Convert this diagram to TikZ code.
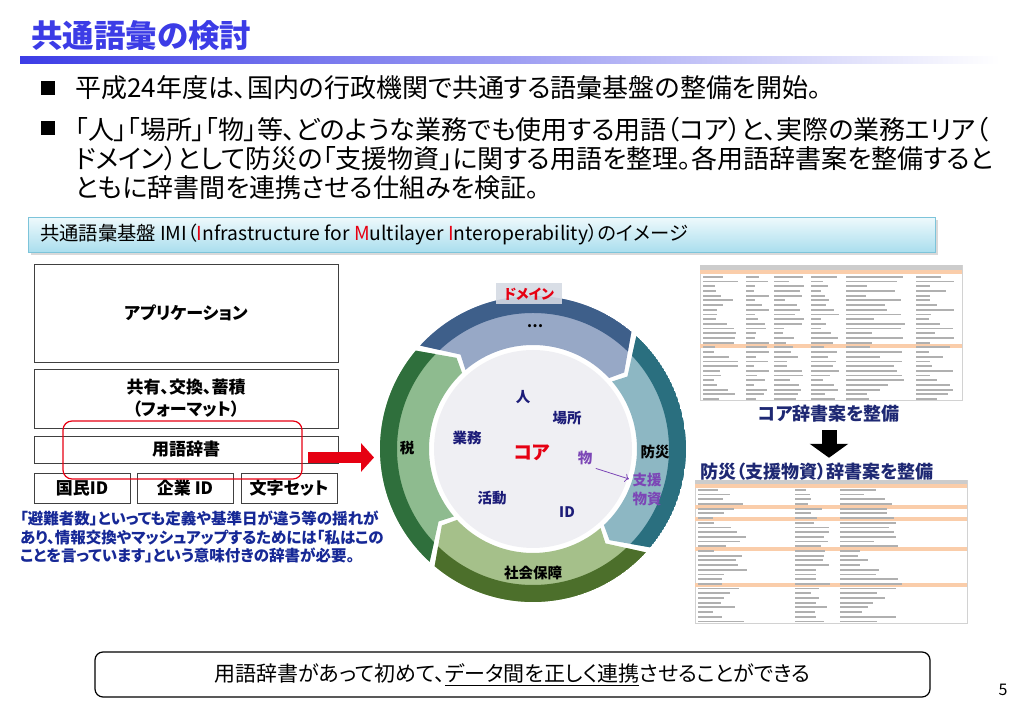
\documentclass[tikz,border=0pt]{standalone}
\usepackage{fontspec}
\setmainfont{Noto Sans CJK JP}[RawFeature=+palt]
\usetikzlibrary{positioning,arrows.meta,shadows}

\definecolor{titleblue}{RGB}{60,60,230}
\definecolor{capTop}{RGB}{238,249,252}
\definecolor{capBot}{RGB}{170,222,238}
\definecolor{capLine}{RGB}{125,196,218}
\definecolor{imiRed}{RGB}{230,0,18}
\definecolor{noteBlue}{RGB}{22,40,150}
\definecolor{coreNavy}{RGB}{28,28,120}
\definecolor{monoPurple}{RGB}{124,70,182}
\definecolor{coreFill}{RGB}{239,239,243}
\definecolor{domainBg}{RGB}{213,218,227}
\definecolor{segBlueD}{RGB}{62,95,138}
\definecolor{segBlueL}{RGB}{151,168,198}
\definecolor{segTealD}{RGB}{42,111,127}
\definecolor{segTealL}{RGB}{141,183,195}
\definecolor{segOliveD}{RGB}{76,111,43}
\definecolor{segOliveL}{RGB}{165,192,138}
\definecolor{segGreenD}{RGB}{47,111,60}
\definecolor{segGreenL}{RGB}{142,187,143}
\definecolor{sheetOrange}{RGB}{250,205,170}
\definecolor{dictNavy}{RGB}{30,40,115}

\tikzset{
  layer/.style = {draw=black!75, line width=0.8pt, inner sep=0pt, font=\bfseries\fontsize{17}{22}\selectfont},
  bullet/.style = {fill=black, minimum size=14pt, inner sep=0pt},
  bodyline/.style = {anchor=west, inner sep=0pt, font=\fontsize{26}{30}\selectfont},
  seglabel/.style = {font=\bfseries\fontsize{14.5}{17}\selectfont},
  coreword/.style = {text=coreNavy, font=\bfseries\fontsize{14.5}{17}\selectfont},
  sheet/.style = {draw=gray!35, fill=white, inner sep=0pt},
  sheettext/.style = {fill=gray!62},
  dicttitle/.style = {text=dictNavy, font=\bfseries\fontsize{18}{22}\selectfont},
}

% one clockwise arrow segment of the domain ring, #1 = its counterclockwise end
\newcommand{\segpath}[1]{(#1+2.5:153) arc[start angle=#1+2.5, end angle=#1-85, radius=153]
  -- (#1-95:119) -- (#1-92:104) arc[start angle=#1-92, end angle=#1-4.5, radius=104]
  -- (#1-7.5:119) -- cycle}

\begin{document}
\begin{tikzpicture}[x=1pt,y=1pt]
\useasboundingbox (0,0) rectangle (1023,708);

% title
\node[anchor=west, inner sep=0pt, text=titleblue, font=\bfseries\fontsize{31.5}{36}\selectfont] (title) at (31,672) {共通語彙の検討};
\shade[left color=titleblue, right color=white] (20,644) rectangle (1000,651);

% bullets
\node[bullet] (sq1) at (48,620) {};
\node[bullet] (sq2) at (48,580) {};
\node[bodyline] (line1) at (75,620) {平成24年度は、国内の行政機関で共通する語彙基盤の整備を開始。};
\node[bodyline] (line2) at (75,578) {「人」「場所」「物」等、どのような業務でも使用する用語（コア）と、実際の業務エリア（};
\node[bodyline] (line3) at (75,549) {ドメイン）として防災の「支援物資」に関する用語を整理。各用語辞書案を整備すると};
\node[bodyline] (line4) at (75,520) {ともに辞書間を連携させる仕組みを検証。};

% caption
\node[draw=capLine, top color=capTop, bottom color=capBot, drop shadow={opacity=0.3},
      minimum width=907, minimum height=35, anchor=north west] (cap) at (28,491) {};
\node[anchor=west, inner sep=0pt, font=\fontsize{19.3}{22}\selectfont] (captext) at ([xshift=12]cap.west)
  {共通語彙基盤 IMI（{\color{imiRed}I}nfrastructure for {\color{imiRed}M}ultilayer {\color{imiRed}I}nteroperability）のイメージ};

% layer stack
\node[layer, minimum width=304, minimum height=98] (app) at (186,395) {アプリケーション};
\node[layer, minimum width=304, minimum height=59, align=center] (share) at (186,309.5) {共有、交換、蓄積\\（フォーマット）};
\node[layer, minimum width=304, minimum height=27] (dict) at (186,258.5) {用語辞書};
\node[layer, minimum width=96, minimum height=30] (kokumin) at (82,220) {国民ID};
\node[layer, minimum width=96, minimum height=30] (kigyo) at (185,220) {企業 ID};
\node[layer, minimum width=96, minimum height=30] (moji) at (289,220) {文字セット};
\node[draw=imiRed, line width=1.2pt, rounded corners=9pt, minimum width=239, minimum height=58] (redbox) at (182.5,258) {};

\node[anchor=west, inner sep=0pt, align=left, text=noteBlue, font=\bfseries\fontsize{15.5}{18.5}\selectfont] (note) at (20,171)
  {「避難者数」といっても定義や基準日が違う等の揺れが\\あり、情報交換やマッシュアップするためには「私はこの\\ことを言っています」という意味付きの辞書が必要。};

\coordinate (arrS) at (308,250.5);
\coordinate (arrE) at (374,250.5);
\draw[imiRed, line width=11pt, -{Triangle[length=13pt, width=28pt]}] (arrS) -- (arrE);

% domain ring
\begin{scope}[shift={(533,259)}]
  \foreach \a/\lc/\dc in {135/segBlueL/segBlueD, 45/segTealL/segTealD, -45/segOliveL/segOliveD, 225/segGreenL/segGreenD} {
    \begin{scope}
      \clip \segpath{\a};
      \fill[\lc] (0,0) circle (153);
      \fill[\dc, even odd rule] (0,0) circle (153) circle (136);
    \end{scope}
  }
\end{scope}
\node[circle, fill=coreFill, minimum size=198, inner sep=0pt] (core) at (533,259) {};

\node[fill=domainBg, fill opacity=0.9, text opacity=1, text=imiRed, minimum width=66, minimum height=21, inner sep=0pt,
      font=\bfseries\fontsize{14}{17}\selectfont] (domain) at (529,414) {ドメイン};
\node[seglabel] (etc) at (535,382) {…};
\node[seglabel] (tax) at (407,260) {税};
\node[seglabel] (bosai) at (655,256) {防災};
\node[seglabel] (shakai) at (533,135) {社会保障};

\node[coreword] (hito) at (523,311) {人};
\node[coreword] (basho) at (567,290) {場所};
\node[coreword] (gyomu) at (467,270) {業務};
\node[coreword] (katsudo) at (492,210) {活動};
\node[coreword] (id) at (567,196) {ID};
\node[text=imiRed, font=\bfseries\fontsize{19}{22}\selectfont] (coa) at (532,255) {コア};
\node[text=monoPurple, font=\bfseries\fontsize{14.5}{17}\selectfont] (mono) at (585,250) {物};
\node[text=monoPurple, align=center, font=\bfseries\fontsize{14.5}{19}\selectfont] (shien) at (647,218) {支援\\物資};
\draw[monoPurple, line width=0.8pt, -{To[length=4pt]}] (mono.south east) -- (shien.west |- 0,229);

% dictionary sheets
\node[sheet, minimum width=262, minimum height=135, anchor=north west] (coreSheet) at (700,443) {};
\fill[gray!40] (coreSheet.north west) rectangle ([yshift=-5]coreSheet.north east);
\foreach \y in {438, 364} \fill[sheetOrange] (700,\y) rectangle (962,\y-4);
\pgfmathsetseed{17}
\foreach \x/\w in {703/36, 746/24, 774/30, 811/30, 846/60, 916/40}
  \foreach \i in {0,...,26}
    \fill[sheettext] (\x,432-\i*4.7) rectangle +({\w*(0.3+0.7*rnd)},-1.8);

\node[dicttitle] (coreDict) at (829,294) {コア辞書案を整備};
\node[dicttitle] (bosaiDict) at (817,236) {防災（支援物資）辞書案を整備};
\draw[black, line width=15pt, -{Triangle[length=14pt, width=38pt]}] ([yshift=-4]coreDict.south) -- ([yshift=2]coreDict.south |- bosaiDict.north);

\node[sheet, minimum width=272, minimum height=143, anchor=north west] (bosaiSheet) at (695,228) {};
\fill[gray!40] (bosaiSheet.north west) rectangle ([yshift=-4]bosaiSheet.north east);
\foreach \y in {224, 203, 191, 161, 125} \fill[sheetOrange] (695,\y) rectangle (967,\y-4);
\foreach \x/\w in {698/50, 795/36, 840/62}
  \foreach \i in {0,...,28}
    \fill[sheettext] (\x,219-\i*4.7) rectangle +({\w*(0.25+0.75*rnd)},-1.8);

% conclusion
\node[draw, line width=1.2pt, rounded corners=8pt, minimum width=835, minimum height=45,
      font=\fontsize{21}{24}\selectfont] (concl) at (512.5,33.5) {用語辞書があって初めて、\underline{データ間を正しく連携}させることができる};
\node[font=\fontsize{16}{19}\selectfont] (page) at (1003,18) {5};
\end{tikzpicture}
\end{document}
